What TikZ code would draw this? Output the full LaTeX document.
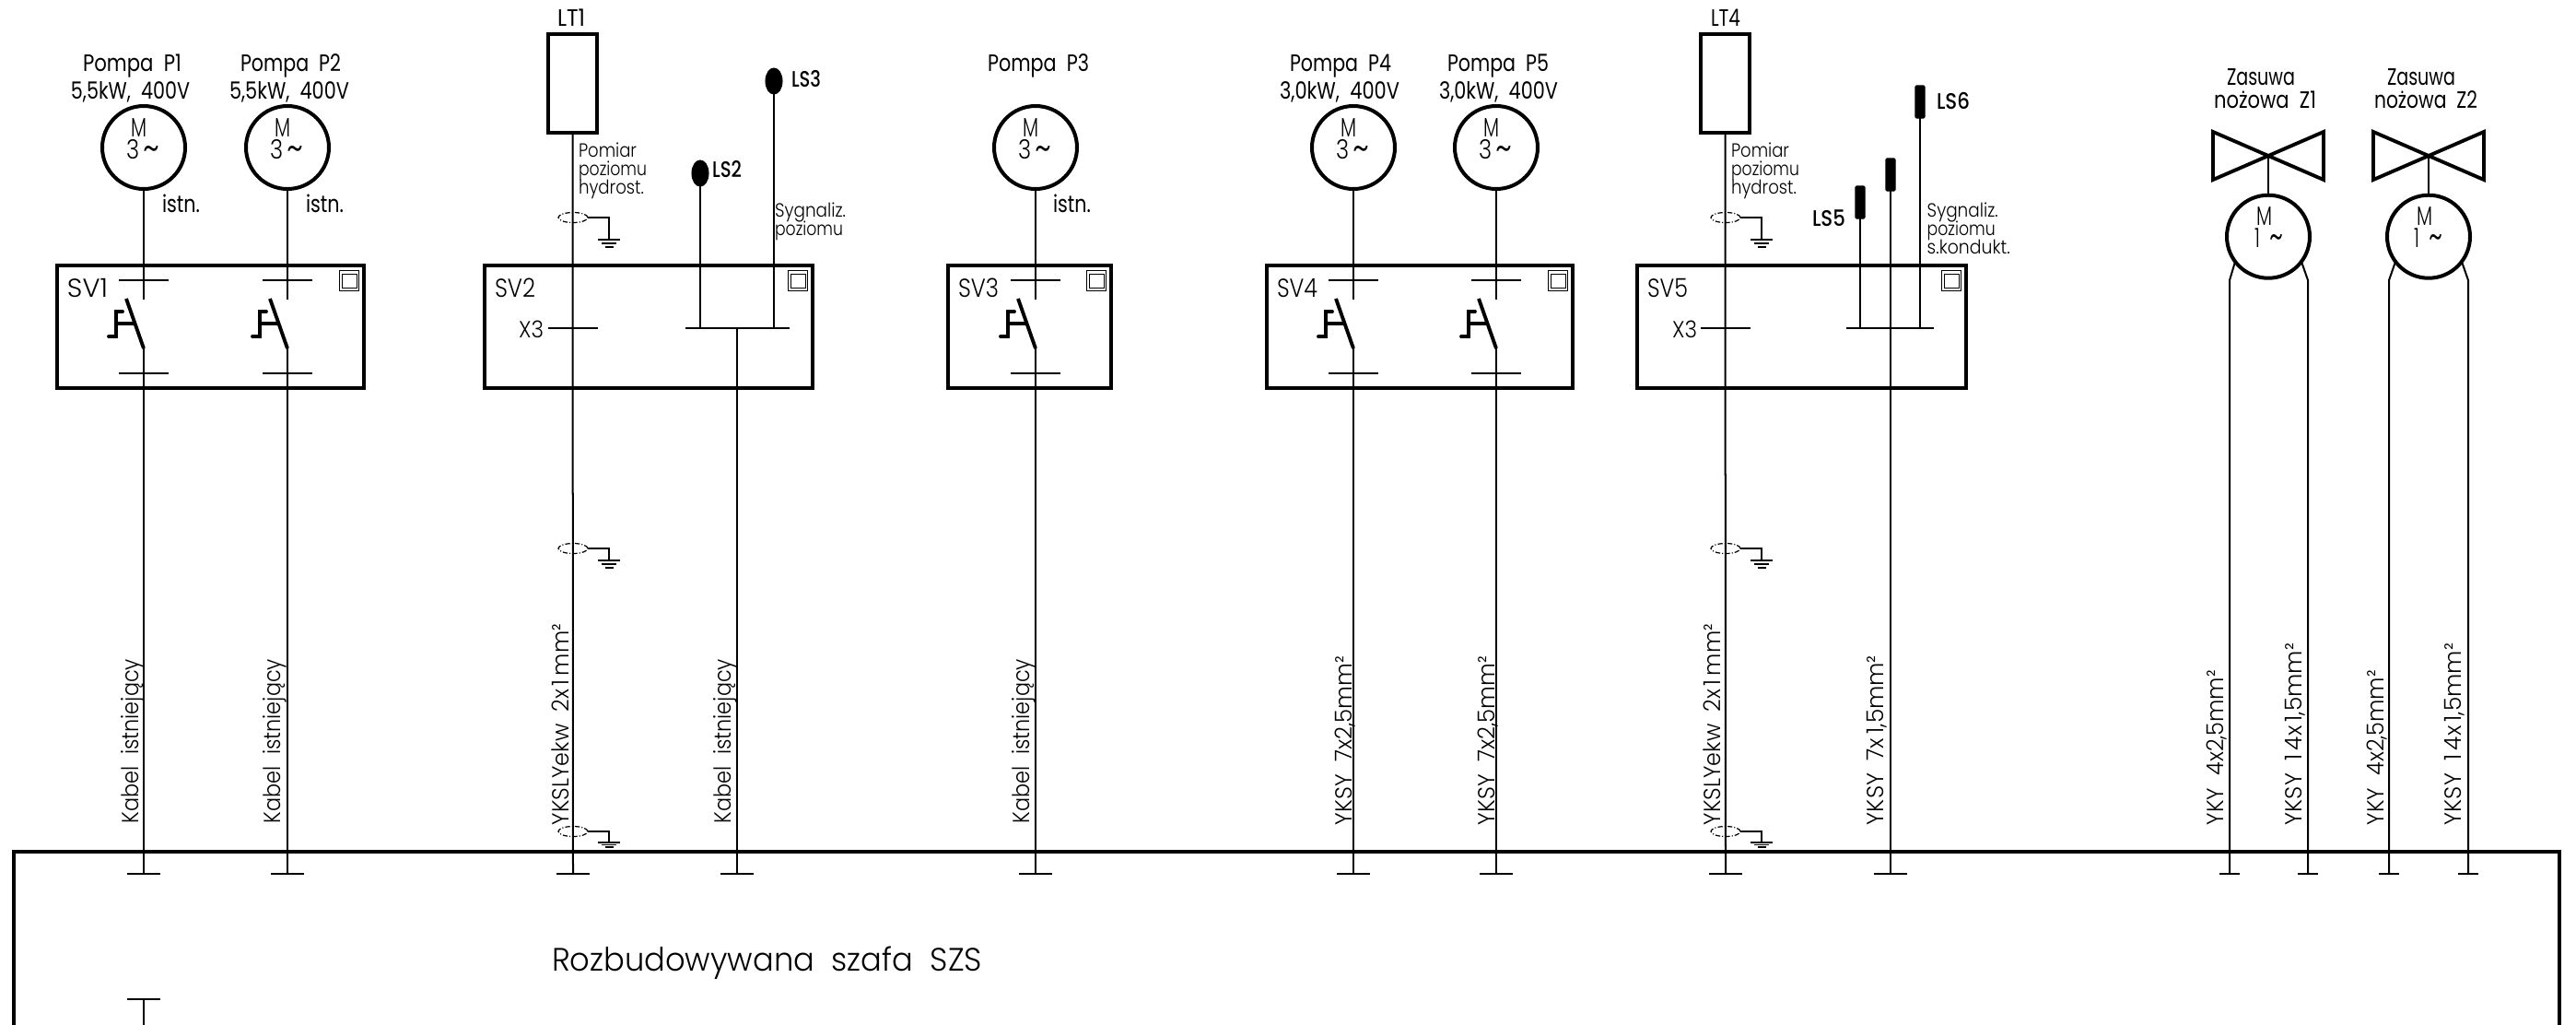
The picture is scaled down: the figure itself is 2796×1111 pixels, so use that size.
\documentclass[tikz,border=0pt]{standalone}
\usepackage{fontspec}
\usetikzlibrary{shapes.geometric}
\setmainfont{Poppins}
\newfontfamily\lightf{Poppins Light}
\newfontfamily\medf{Poppins Medium}
\newlength\px \setlength\px{0.01cm}
\tikzset{
  wire/.style={line width=0.569pt,line cap=butt},
  thick line/.style={line width=1.1pt},
  boxnode/.style={draw,line width=1.14pt,rectangle,inner sep=0pt,outer sep=0pt,anchor=north west},
  motor/.style={draw,circle,line width=1.14pt,inner sep=0pt,outer sep=0pt,minimum size=90\px},
  tx/.style={inner sep=0pt,outer sep=0pt,anchor=base west,text=black},
  rot/.style={tx,rotate=90},
  big/.style={font=\fontsize{7.3}{8}\selectfont},
  bold/.style={font=\medf\fontsize{6.9}{8}\selectfont},
  motort/.style={font=\lightf\fontsize{8.2}{8}\selectfont},
  svt/.style={font=\lightf\fontsize{8}{8}\selectfont},
  xt/.style={font=\lightf\fontsize{7.2}{8}\selectfont},
  small/.style={font=\lightf\fontsize{5.9}{7}\selectfont},
  cable/.style={font=\lightf\fontsize{7.2}{8}\selectfont},
  huge t/.style={font=\lightf\fontsize{10}{12}\selectfont},
  shield/.style={draw,ellipse,line width=0.35pt,minimum width=32\px,minimum height=11\px,inner sep=0pt,outer sep=0pt,dash pattern=on 1.5pt off 0.6pt on 0.3pt off 0.6pt},
  sensorE/.style={fill=black,draw=black,ellipse,line width=0.3pt,minimum width=18\px,minimum height=28\px,inner sep=0pt,outer sep=0pt},
  sensorR/.style={fill=black,draw=black,rectangle,rounded corners=0.3pt,line width=0.3pt,minimum width=10\px,minimum height=35\px,inner sep=0pt,outer sep=0pt},
}
\newcommand\tld{\raisebox{-1pt}{\fontsize{12.5}{12}\selectfont\textasciitilde}}
% text: [style] name x baseline width text
\newcommand\tx[6][]{\node[tx,#1] (#2) at (#3,#4) {\resizebox{#5\px}{\height}{#6}};}
% motor symbol: name x y digit width-of-second-line
\newcommand\motorsym[5]{%
  \node[motor] (#1) at (#2,#3) {};
  \tx[motort]{#1M}{#2-14}{#3-12}{17}{M}
  \tx[motort]{#1L}{#2-#5}{#3+12}{36}{#4\,\tld}
}
\newcommand\terminal[2]{\draw[line width=0.8pt] (#1-#2,948) -- (#1+#2,948);}
% switch: name x
\newcommand\switchsym[2]{%
  \coordinate (#1a) at (#2,325);
  \coordinate (#1b) at (#2,378);
  \coordinate (#1c) at (#2,948);
  \draw[wire] (#1) -- (#1a);
  \draw[wire] (#1b) -- (#1c);
  \draw[thick line] (#1b) -- ++(-19,-54);
  \draw[thick line,line cap=round] (#2-38,365) -- ++(8,0) -- ++(0,-27) -- ++(7,0);
  \draw[thick line] (#2-30,351) -- ++(20,0);
  \draw[wire] (#2-27,304) -- ++(54,0);
  \draw[wire] (#2-27,405) -- ++(54,0);
  \terminal{#2}{18}
}
% control box: name x1 x2 label
\newcommand\svbox[4]{%
  \node[boxnode,minimum width={(#3-#2)*\px},minimum height=133\px] (#1) at (#2,288) {};
  \draw[line width=0.25pt] (#3-27,293) rectangle (#3-6,315);
  \draw[line width=0.25pt] (#3-24,297) rectangle (#3-8,312);
  \tx[svt]{#1t}{#2+11}{322.7}{44}{#4}
}
% shield: name x y ground-y spacing
\newcommand\shieldsym[5]{%
  \node[shield] (#1) at (#2,#3) {};
  \coordinate (#1g) at (#2+39,#4);
  \draw[line width=0.4pt] (#1.east) -| (#1g);
  \draw[line width=0.4pt] (#2+27,#4) -- ++(24,0);
  \draw[line width=0.4pt] (#2+31,#4+#5) -- ++(16,0);
  \draw[line width=0.4pt] (#2+34.5,#4+2*#5) -- ++(9,0);
}
\begin{document}
\begin{tikzpicture}[x=0.01cm,y=-0.01cm]
\useasboundingbox[fill=white] (0,0) rectangle (2796,1111);
\begin{scope}
\clip (0,0) rectangle (2796,1111);

% main cabinet
\node[boxnode,line width=1.2pt,minimum width=2763\px,minimum height=260\px] (cab) at (15,924) {};
\tx[huge t]{cabt}{599}{1053}{467}{Rozbudowywana~~szafa~~SZS}
\coordinate (lowT) at (156,1084);
\coordinate (lowB) at (156,1120);
\draw[wire] (lowT) -- (lowB);
\draw[line width=0.8pt] (138,1084) -- (174,1084);

% control boxes
\svbox{sv1}{62}{395}{SV1}
\svbox{sv2}{526}{882}{SV2}
\svbox{sv3}{1029}{1206}{SV3}
\svbox{sv4}{1375}{1707}{SV4}
\svbox{sv5}{1777}{2134}{SV5}

% pump motors
\motorsym{p1}{156}{160}{3}{19}
\motorsym{p2}{312}{160}{3}{19}
\motorsym{p3}{1124}{160}{3}{19}
\motorsym{p4}{1469}{160}{3}{19}
\motorsym{p5}{1624}{160}{3}{19}
\switchsym{p1}{156}
\switchsym{p2}{312}
\switchsym{p3}{1124}
\switchsym{p4}{1469}
\switchsym{p5}{1624}

\tx[big]{l1a}{90}{77}{107}{Pompa~~P1}
\tx[big]{l1b}{77}{107.5}{129}{5,5kW,~~400V}
\tx[big]{l2a}{261}{77}{109}{Pompa~~P2}
\tx[big]{l2b}{249}{107.5}{130}{5,5kW,~~400V}
\tx[big]{l3a}{1072}{77}{110}{Pompa~~P3}
\tx[big]{l4a}{1400}{77}{110}{Pompa~~P4}
\tx[big]{l4b}{1389}{107.5}{130}{3,0kW,~~400V}
\tx[big]{l5a}{1571}{77}{110}{Pompa~~P5}
\tx[big]{l5b}{1562}{107.5}{129}{3,0kW,~~400V}
\tx[big]{i1}{176}{230}{41}{istn.}
\tx[big]{i2}{332}{230}{41}{istn.}
\tx[big]{i3}{1143}{230}{41}{istn.}

% SV2 group
\node[boxnode,minimum width=53\px,minimum height=107\px] (lt1) at (595,37) {};
\tx[big]{lt1t}{605}{28}{30}{LT1}
\coordinate (lt1x) at (622,948);
\draw[wire] (lt1.south) -- (lt1x);
\terminal{622}{18}
\draw[wire] (595,356) -- (649,356);
\tx[xt]{x3a}{563}{366}{27}{X3}
\tx[small]{pa}{628}{170}{63}{Pomiar}
\tx[small]{pb}{628}{190}{74}{poziomu}
\tx[small]{pc}{628}{210}{71}{hydrost.}
\shieldsym{s1}{622}{236}{260}{4}
\shieldsym{s2}{622}{595}{608}{4}
\shieldsym{s3}{622}{902}{914}{2.5}

\node[sensorE] (ls2) at (760,188) {};
\node[sensorE] (ls3) at (840,88) {};
\coordinate (bus2a) at (760,356);
\coordinate (bus2b) at (840,356);
\coordinate (bus2c) at (800,356);
\coordinate (w2) at (800,948);
\draw[wire] (ls2) -- (bus2a);
\draw[wire] (ls3) -- (bus2b);
\draw[wire] (744,356) -- (857,356);
\draw[wire] (bus2c) -- (w2);
\terminal{800}{18}
\tx[bold]{ls2t}{773}{192}{32}{LS2}
\tx[bold]{ls3t}{859}{94}{32}{LS3}
\tx[small]{sa}{841}{235}{77}{Sygnaliz.}
\tx[small]{sb}{841}{255}{74}{poziomu}

% SV5 group
\node[boxnode,minimum width=53\px,minimum height=107\px] (lt4) at (1846,37) {};
\tx[big]{lt4t}{1857}{28}{32}{LT4}
\coordinate (lt4x) at (1873,948);
\draw[wire] (lt4.south) -- (lt4x);
\terminal{1873}{18}
\draw[wire] (1846,356) -- (1900,356);
\tx[xt]{x3b}{1815}{366}{27}{X3}
\tx[small]{qa}{1879}{170}{63}{Pomiar}
\tx[small]{qb}{1879}{190}{74}{poziomu}
\tx[small]{qc}{1879}{210}{71}{hydrost.}
\shieldsym{t1}{1873}{236}{260}{4}
\shieldsym{t2}{1873}{595}{608}{4}
\shieldsym{t3}{1873}{902}{914}{2.5}

\node[sensorR] (ls5) at (2019,219.5) {};
\node[sensorR] (lsm) at (2052,189.5) {};
\node[sensorR] (ls6) at (2084,110.5) {};
\coordinate (bus5a) at (2019,356);
\coordinate (bus5b) at (2084,356);
\coordinate (w5) at (2052,948);
\draw[wire] (ls5) -- (bus5a);
\draw[wire] (ls6) -- (bus5b);
\draw[wire] (lsm) -- (w5);
\draw[wire] (2004,356) -- (2099,356);
\terminal{2052}{18}
\tx[bold]{ls5t}{1967}{245}{36}{LS5}
\tx[bold]{ls6t}{2102}{118}{36}{LS6}
\tx[small]{ra}{2091.7}{235}{77}{Sygnaliz.}
\tx[small]{rb}{2091.7}{255}{74}{poziomu}
\tx[small]{rc}{2091.7}{275}{90}{s.kondukt.}

% valves
\coordinate (v1) at (2462,169);
\coordinate (v2) at (2636,169);
\draw[thick line,line join=miter] (v1) ++(-60,-26) -- ++(0,52) -- ++(120,-52) -- ++(0,52) -- cycle;
\draw[thick line,line join=miter] (v2) ++(-60,-26) -- ++(0,52) -- ++(120,-52) -- ++(0,52) -- cycle;
\node[motor] (z1) at (2462,256.7) {};
\node[motor] (z2) at (2636,256.7) {};
\draw[wire] (v1) -- (z1);
\draw[wire] (v2) -- (z2);
\tx[motort]{z1M}{2449}{244}{17}{M}
\tx[motort]{z1L}{2447}{268}{31}{1\enspace\tld}
\tx[motort]{z2M}{2623}{244}{17}{M}
\tx[motort]{z2L}{2620}{268}{31}{1\enspace\tld}
\tx[big]{z1a}{2417}{92.7}{74}{Zasuwa}
\tx[big]{z1b}{2403}{117.7}{111}{nożowa~~Z1}
\tx[big]{z2a}{2591}{92.7}{74}{Zasuwa}
\tx[big]{z2b}{2577}{117.7}{112}{nożowa~~Z2}
\coordinate (z1lx) at (2420,948);
\coordinate (z1rx) at (2505,948);
\coordinate (z2lx) at (2593,948);
\coordinate (z2rx) at (2679,948);
\draw[wire] (z1.-143) -- (2420,304) -- (z1lx);
\draw[wire] (z1.-37) -- (2505,304) -- (z1rx);
\draw[wire] (z2.-143) -- (2593,304) -- (z2lx);
\draw[wire] (z2.-37) -- (2679,304) -- (z2rx);
\terminal{2420}{11}
\terminal{2505}{11}
\terminal{2593}{11}
\terminal{2679}{11}

% cable labels
\tx[rot,cable]{c1}{150.5}{893}{178}{Kabel~~istniejący}
\tx[rot,cable]{c2}{304}{893}{178}{Kabel~~istniejący}
\tx[rot,cable]{c3}{617.3}{895}{218}{YKSLYekw~~2x\,1\,mm²}
\tx[rot,cable]{c4}{793}{893}{178}{Kabel~~istniejący}
\tx[rot,cable]{c5}{1117.5}{893}{178}{Kabel~~istniejący}
\tx[rot,cable]{c6}{1467}{895}{183}{YKSY~~7x2,5mm²}
\tx[rot,cable]{c7}{1622}{895}{183}{YKSY~~7x2,5mm²}
\tx[rot,cable]{c8}{1867.5}{895}{218}{YKSLYekw~~2x\,1\,mm²}
\tx[rot,cable]{c9}{2044.4}{895}{184}{YKSY~~7x\,1,5mm²}
\tx[rot,cable]{c10}{2413}{895}{168}{YKY~~4x2,5mm²}
\tx[rot,cable]{c11}{2498}{895}{197}{YKSY~~1\,4x\,1,5mm²}
\tx[rot,cable]{c12}{2587}{895}{168}{YKY~~4x2,5mm²}
\tx[rot,cable]{c13}{2671}{895}{197}{YKSY~~1\,4x\,1,5mm²}
\end{scope}
\end{tikzpicture}
\end{document}
